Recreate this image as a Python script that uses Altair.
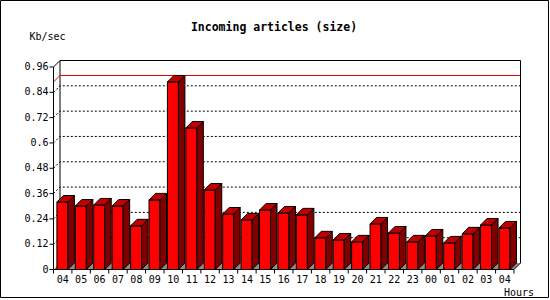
import altair as alt
import pandas as pd

# ---- data ----
hours = ["04", "05", "06", "07", "08", "09", "10", "11", "12", "13", "14", "15",
         "16", "17", "18", "19", "20", "21", "22", "23", "00", "01", "02", "03", "04"]
values = [0.320, 0.301, 0.306, 0.301, 0.207, 0.330, 0.889, 0.671, 0.377, 0.263,
          0.235, 0.282, 0.268, 0.259, 0.150, 0.140, 0.131, 0.216, 0.173, 0.131,
          0.159, 0.126, 0.169, 0.211, 0.197]
y_ticks = [0, 0.12, 0.24, 0.36, 0.48, 0.6, 0.72, 0.84, 0.96]
y_labels = ["0", "0.12", "0.24", "0.36", "0.48", "0.6", "0.72", "0.84", "0.96"]
title_text = "Incoming articles (size)"
y_title = "Kb/sec"
x_title = "Hours"

# ---- geometry (pixels) ----
W, H = 467, 209
D = 6.5                      # 3-D depth in px
n = len(values)
PX = (W - D) / n             # px per category
PY = (H - D) / y_ticks[-1]   # px per unit
XMAX = W / PX
YMAX = H / PY
DX = D / PX
DY = D / PY
BAR_OFF = 3.4 / PX
BAR_W = 11 / PX
FONT = "DejaVu Sans Mono"

XS = alt.Scale(domain=[0, XMAX], nice=False, zero=False)
YS = alt.Scale(domain=[0, YMAX], nice=False, zero=False)


def X(f):
    return alt.X(f, type="quantitative", scale=XS, axis=None)


def Y(f):
    return alt.Y(f, type="quantitative", scale=YS, axis=None)


# ---- tables built from the arrays ----
front = pd.DataFrame({
    "x0": [i + BAR_OFF for i in range(n)],
    "x1": [i + BAR_OFF + BAR_W for i in range(n)],
    "y0": [0.0] * n,
    "v": values,
})

side_rows, top_rows = [], []
for i, v in enumerate(values):
    x0 = i + BAR_OFF
    x1 = x0 + BAR_W
    side_rows.append({"b": i, "x": x1, "y": v, "y2": 0.0})
    side_rows.append({"b": i, "x": x1 + DX, "y": v + DY, "y2": DY})
    top_rows.append({"b": i, "y": v, "x": x0, "x2": x1})
    top_rows.append({"b": i, "y": v + DY, "x": x0 + DX, "x2": x1 + DX})
side = pd.DataFrame(side_rows)
top = pd.DataFrame(top_rows)

wall = pd.DataFrame({"k": [0, 1, 2, 3], "x": [DX, DX, XMAX, XMAX],
                     "y": [DY, YMAX, YMAX, DY]})

grid_rows = []
for g, t in enumerate(y_ticks[1:-1]):
    grid_rows += [{"g": g, "k": 0, "x": 0.0, "y": t},
                  {"g": g, "k": 1, "x": DX, "y": t + DY},
                  {"g": g, "k": 2, "x": XMAX, "y": t + DY}]
grid = pd.DataFrame(grid_rows)

vmax = max(values)
maxline = pd.DataFrame({"k": [0, 1, 2], "x": [0.0, DX, XMAX],
                        "y": [vmax, vmax + DY, vmax + DY]})

yaxis_line = pd.DataFrame({"k": [0, 1, 2], "x": [0.0, 0.0, DX],
                           "y": [0.0, y_ticks[-1], y_ticks[-1] + DY]})

floor = pd.DataFrame({"x": [0.0, DX, n, n + DX], "y": [0.0, DY, DY, DY],
                      "y2": [0.0, 0.0, 0.0, DY]})
floor_line = pd.DataFrame({"k": [0, 1, 2], "x": [0.0, n, n + DX],
                           "y": [0.0, 0.0, DY]})

ytick_df = pd.DataFrame({"t": y_ticks, "lab": y_labels})
xtick_df = pd.DataFrame({"x": list(range(n + 1))})
xlab_df = pd.DataFrame({"x": [i + 0.5 for i in range(n)], "lab": hours})

one = pd.DataFrame({"a": [0]})

# ---- layers ----
wall_l = alt.Chart(wall).mark_line(color="black", strokeWidth=1).encode(
    x=X("x"), y=Y("y"), order="k:Q")
grid_l = alt.Chart(grid).mark_line(color="black", strokeWidth=1, strokeDash=[2, 2]).encode(
    x=X("x"), y=Y("y"), detail="g:N", order="k:Q")
max_l = alt.Chart(maxline).mark_line(color="#dd0000", strokeWidth=1).encode(
    x=X("x"), y=Y("y"), order="k:Q")
floor_l = alt.Chart(floor).mark_area(color="#8c8c8c", opacity=1).encode(
    x=X("x"), y=Y("y"), y2="y2")
floor_line_l = alt.Chart(floor_line).mark_line(color="black", strokeWidth=1).encode(
    x=X("x"), y=Y("y"), order="k:Q")
yaxis_l = alt.Chart(yaxis_line).mark_line(color="black", strokeWidth=1).encode(
    x=X("x"), y=Y("y"), order="k:Q")

ytick_l = alt.Chart(ytick_df).mark_rule(color="black", strokeWidth=1).encode(
    y=Y("t"), x=alt.value(-4), x2=alt.value(0))
ylab_l = alt.Chart(ytick_df).mark_text(font=FONT, fontSize=10, align="right",
                                       baseline="middle", color="black").encode(
    y=Y("t"), x=alt.value(-5), text="lab:N")
xtick_l = alt.Chart(xtick_df).mark_rule(color="black", strokeWidth=1).encode(
    x=X("x"), y=alt.value(H), y2=alt.value(H + 4))
xlab_l = alt.Chart(xlab_df).mark_text(font=FONT, fontSize=10, align="center",
                                      baseline="top", color="black").encode(
    x=X("x"), y=alt.value(H + 5), text="lab:N")

front_l = alt.Chart(front).mark_rect(color="#ff0000", stroke="black", strokeWidth=1).encode(
    x=X("x0"), x2="x1", y=Y("y0"), y2="v")
side_l = alt.Chart(side).mark_area(color="#800000", stroke="black", strokeWidth=1,
                                   opacity=1).encode(
    x=X("x"), y=Y("y"), y2="y2", detail="b:N")
top_l = alt.Chart(top).mark_area(orient="horizontal", color="#c00000", stroke="black",
                                 strokeWidth=1, opacity=1).encode(
    y=Y("y"), x=X("x"), x2="x2", detail="b:N")

frame_l = alt.Chart(one).mark_rect(fill=None, stroke="black", strokeWidth=1).encode(
    x=alt.value(-53), x2=alt.value(495), y=alt.value(-60), y2=alt.value(237))

title_l = alt.Chart(one).mark_text(text=title_text, font=FONT, fontSize=11.5,
                                   fontWeight="bold", align="center",
                                   baseline="alphabetic", color="black").encode(
    x=alt.value(220.5), y=alt.value(-30))
ytitle_l = alt.Chart(one).mark_text(text=y_title, font=FONT, fontSize=10,
                                    align="center", baseline="alphabetic",
                                    color="black").encode(
    x=alt.value(-6), y=alt.value(-20.5))
xtitle_l = alt.Chart(one).mark_text(text=x_title, font=FONT, fontSize=10,
                                    align="center", baseline="alphabetic",
                                    color="black").encode(
    x=alt.value(465.5), y=alt.value(235.5))

chart = alt.layer(
    wall_l, grid_l, max_l, floor_l, floor_line_l, yaxis_l,
    ytick_l, ylab_l, xtick_l, xlab_l,
    front_l, side_l, top_l,
    frame_l, title_l, ytitle_l, xtitle_l,
).properties(
    width=W, height=H,
    padding={"left": 53.5, "top": 60.5, "right": 29.5, "bottom": 30.5},
    autosize=alt.AutoSizeParams(type="none"),
    background="white",
).configure_view(stroke=None)

chart.save("out.html", embed_options={"renderer": "svg", "actions": False})
